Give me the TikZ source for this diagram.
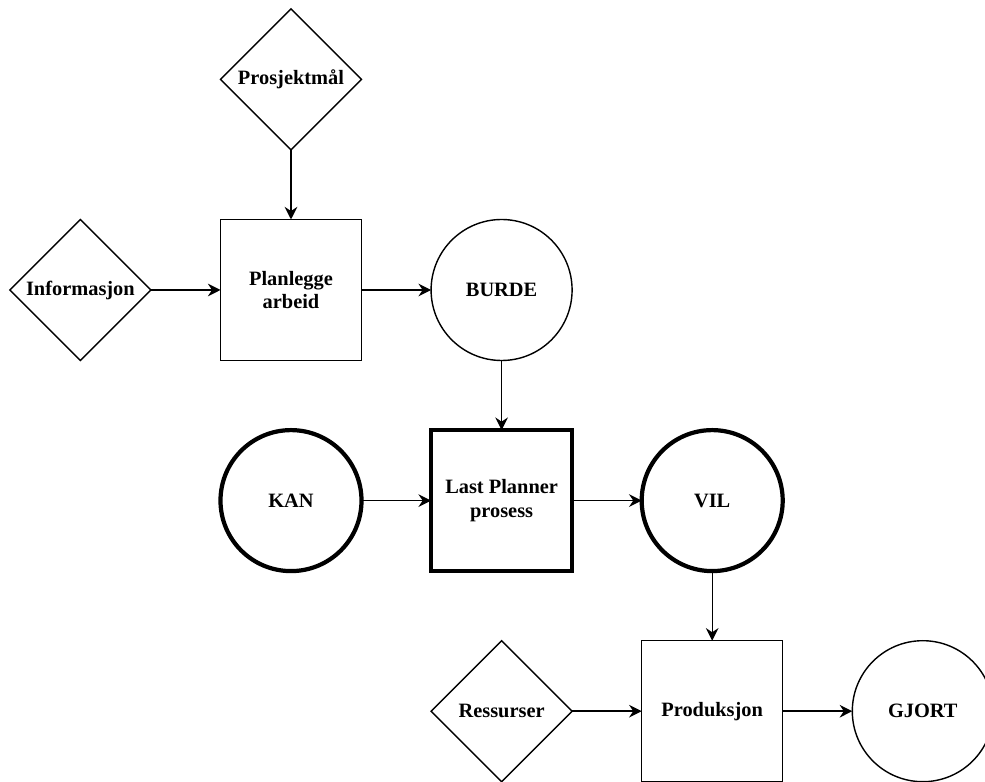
\documentclass[tikz,border=0pt]{standalone}
\usepackage{fontspec}
\setmainfont{Liberation Serif}
\usetikzlibrary{positioning,shapes.geometric,arrows.meta}

\tikzset{
  every node/.style={font=\fontsize{14.5}{17}\selectfont\bfseries, align=center,
    inner sep=0pt, outer sep=0pt, minimum size=3.525cm},
  input/.style={draw, diamond, line width=1pt},
  task/.style={draw, rectangle, line width=1pt},
  state/.style={draw, circle, line width=1pt},
  thick task/.style={task, line width=3pt},
  thick state/.style={state, line width=3pt},
  flow/.style={-{Stealth[length=9pt,width=9pt,inset=3pt]}, line width=1pt}
}

\begin{document}
\begin{tikzpicture}[node distance=1.74cm]
  \clip (-7.275,-12.3) rectangle (17.35,7.25);
  % planning
  \node[task] (plan) {Planlegge\\arbeid};
  \node[input, above=of plan] (maal) {Prosjektmål};
  \node[input, left=of plan] (info) {Informasjon};
  \node[state, right=of plan] (burde) {BURDE};
  % last planner
  \node[thick task, below=of burde] (lp) {Last Planner\\prosess};
  \node[thick state, left=of lp] (kan) {KAN};
  \node[thick state, right=of lp] (vil) {VIL};
  % production
  \node[task, below=of vil] (prod) {Produksjon};
  \node[input, left=of prod] (res) {Ressurser};
  \node[state, right=of prod] (gjort) {GJORT};

  \draw[flow] (maal) -- (plan);
  \draw[flow] (info) -- (plan);
  \draw[flow] (plan) -- (burde);
  \draw[flow] (burde) -- (lp);
  \draw[flow] (kan) -- (lp);
  \draw[flow] (lp) -- (vil);
  \draw[flow] (vil) -- (prod);
  \draw[flow] (res) -- (prod);
  \draw[flow] (prod) -- (gjort);
\end{tikzpicture}
\end{document}
